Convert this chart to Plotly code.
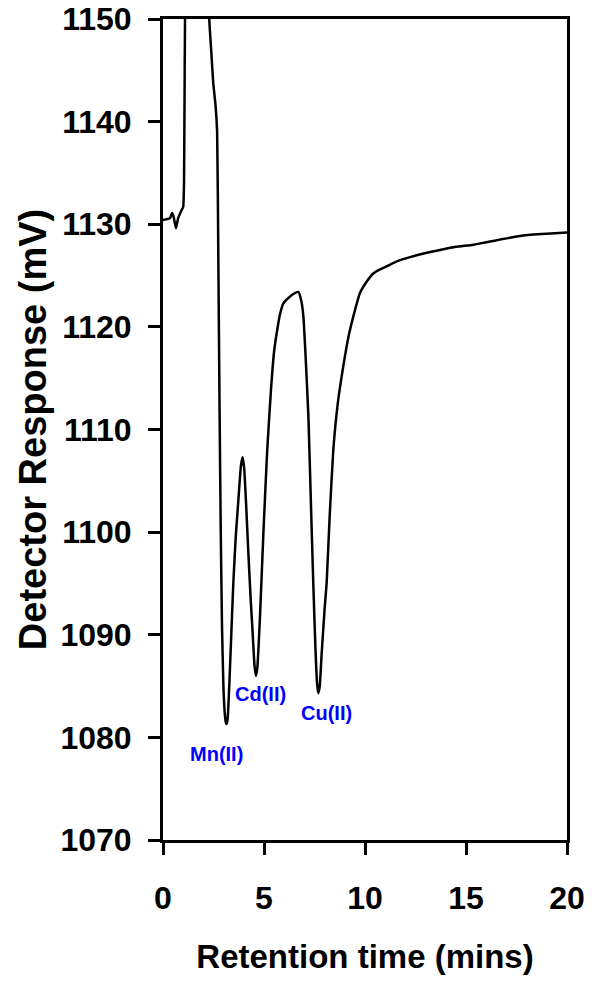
import plotly.graph_objects as go

# Retention time (mins) and detector response (mV)
time_min = [0.0, 0.2, 0.35, 0.45, 0.52, 0.64, 0.75, 0.9, 1.0, 1.04, 1.06, 1.09, 1.2, 1.5,
            2.0, 2.2, 2.29, 2.4, 2.49, 2.6, 2.68, 2.74, 2.8, 2.86, 2.92, 2.99, 3.06, 3.12,
            3.15, 3.2, 3.28, 3.38, 3.48, 3.6, 3.73, 3.86, 3.94, 4.02, 4.12, 4.22, 4.34,
            4.44, 4.53, 4.6, 4.67, 4.8, 4.97, 5.16, 5.35, 5.5, 5.63, 5.8, 5.96, 6.2,
            6.45, 6.7, 6.85, 6.95, 7.05, 7.2, 7.32, 7.44, 7.55, 7.63, 7.69, 7.76, 7.85,
            8.0, 8.1, 8.25, 8.43, 8.65, 8.92, 9.2, 9.42, 9.75, 10.08, 10.41, 10.74,
            11.07, 11.6, 12.23, 13.0, 13.71, 14.5, 15.36, 16.0, 16.68, 17.5, 18.33,
            19.2, 20.0]
response_mv = [1130.4, 1130.5, 1130.6, 1131.1, 1130.8, 1129.6, 1130.6, 1131.3, 1131.7,
               1134.0, 1140.0, 1150.0, 1170.0, 1190.0, 1190.0, 1165.0, 1150.0, 1146.5,
               1143.7, 1141.6, 1139.0, 1126.5, 1112.0, 1100.0, 1091.0, 1085.0, 1082.3,
               1081.4, 1081.3, 1081.8, 1085.0, 1090.0, 1095.0, 1099.5, 1103.1, 1106.5,
               1107.3, 1106.2, 1102.5, 1098.2, 1093.5, 1090.1, 1087.0, 1086.0, 1086.8,
               1091.7, 1099.9, 1108.0, 1114.0, 1117.6, 1119.4, 1121.3, 1122.3, 1122.8,
               1123.2, 1123.4, 1122.5, 1121.0, 1117.5, 1111.2, 1103.0, 1095.0, 1088.5,
               1085.2, 1084.3, 1085.0, 1088.0, 1092.5, 1095.0, 1101.5, 1108.0, 1112.5,
               1116.1, 1119.2, 1121.0, 1123.3, 1124.4, 1125.2, 1125.6, 1125.9, 1126.4,
               1126.8, 1127.2, 1127.5, 1127.8, 1128.0, 1128.25, 1128.5, 1128.8, 1129.0,
               1129.1, 1129.2]

# Peak labels
peak_names = ["Mn(II)", "Cd(II)", "Cu(II)"]
peak_label_x = [2.67, 4.85, 8.07]
peak_label_y = [1078.4, 1084.2, 1082.4]

x_ticks = [0, 5, 10, 15, 20]
y_ticks = [1070, 1080, 1090, 1100, 1110, 1120, 1130, 1140, 1150]

font_family = "Liberation Sans, Arial, sans-serif"

fig = go.Figure()
fig.add_trace(go.Scatter(
    x=time_min, y=response_mv, mode="lines",
    line=dict(color="black", width=2.5, shape="spline", smoothing=0.4),
    showlegend=False, hoverinfo="skip",
))

for name, lx, ly in zip(peak_names, peak_label_x, peak_label_y):
    fig.add_annotation(
        x=lx, y=ly, text=name, showarrow=False,
        font=dict(family=font_family, size=20, color="#0000FF", weight="bold"),
        xanchor="center", yanchor="middle",
    )

fig.update_layout(
    width=592, height=983,
    margin=dict(l=163, r=25, t=19, b=143, autoexpand=False),
    paper_bgcolor="white", plot_bgcolor="white",
    font=dict(family=font_family, color="black"),
)

fig.update_xaxes(
    range=[0, 20], tickvals=x_ticks, ticktext=[str(v) for v in x_ticks],
    showgrid=False, zeroline=False,
    showline=True, linecolor="black", linewidth=3, mirror=True,
    ticks="outside", ticklen=12, tickwidth=3, tickcolor="black",
    tickfont=dict(family=font_family, size=32, color="black", weight="bold"),
    ticklabelstandoff=16,
    title=dict(text="Retention time (mins)", standoff=30,
               font=dict(family=font_family, size=33, color="black", weight="bold")),
)

fig.update_yaxes(
    range=[1070, 1150], tickvals=y_ticks, ticktext=[str(v) for v in y_ticks],
    showgrid=False, zeroline=False,
    showline=True, linecolor="black", linewidth=3, mirror=True,
    ticks="outside", ticklen=12, tickwidth=3, tickcolor="black",
    tickfont=dict(family=font_family, size=32, color="black", weight="bold"),
    ticklabelstandoff=10,
    title=dict(text="Detector Response (mV)", standoff=3,
               font=dict(family=font_family, size=38, color="black", weight="bold")),
)

fig.write_html("out.html", config={"displayModeBar": False},
               post_script="document.body.style.margin='0';")
